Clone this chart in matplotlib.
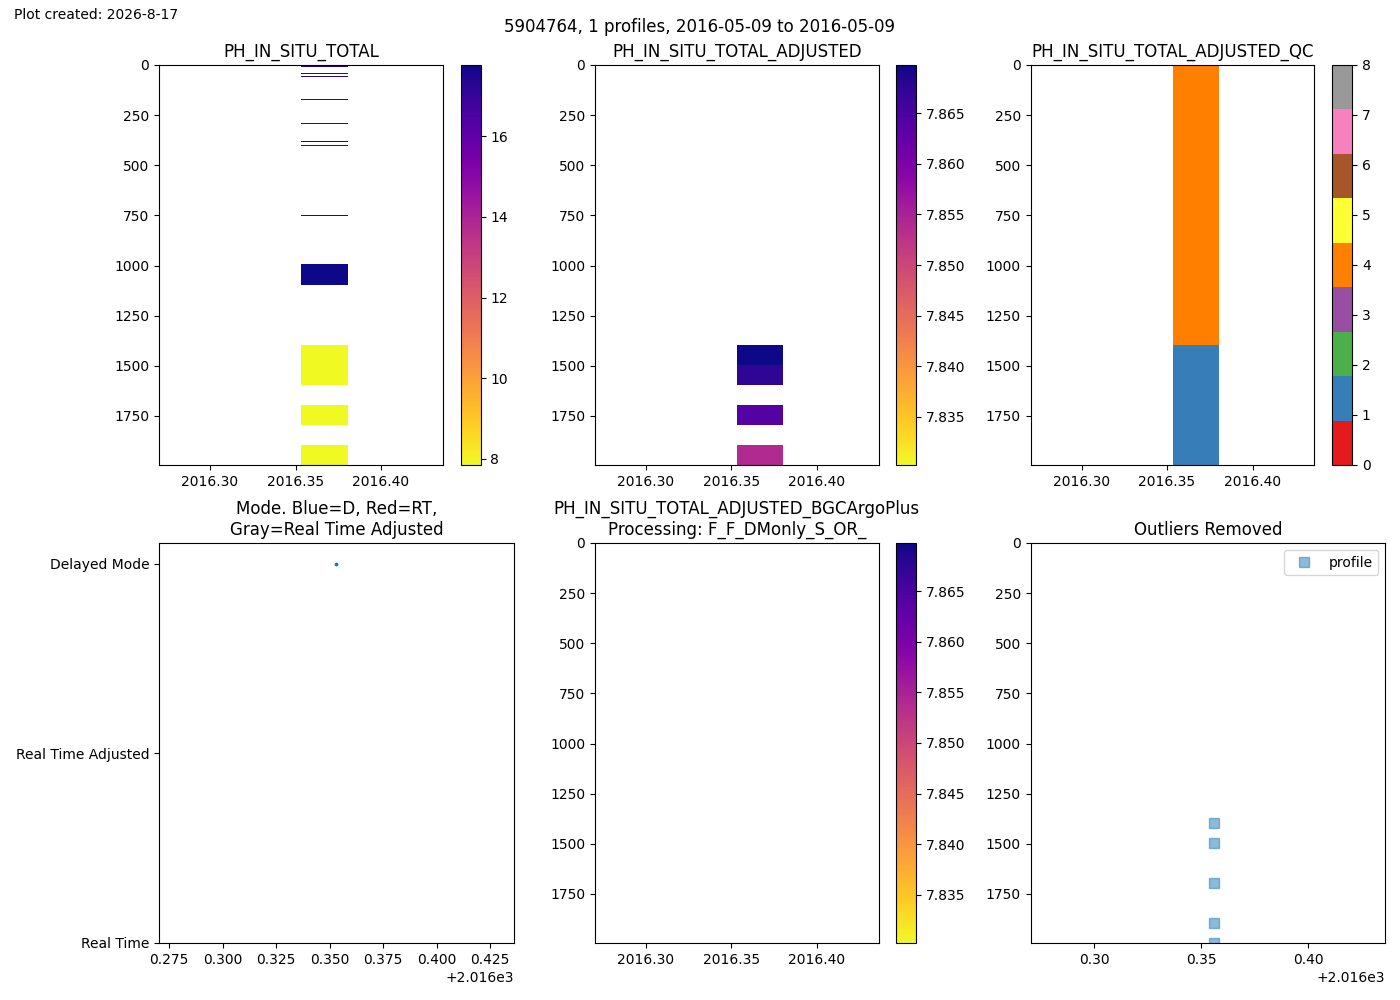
import numpy as np
import matplotlib
matplotlib.use("Agg")
import matplotlib.pyplot as plt

nan = np.nan

wmo = 5904764
date_start = "2016-05-09"
date_end = "2016-05-09"
created = "2026-8-17"

# decimal year of the single profile
prof_time = 2016.3532
prof_time_outliers = 2016.3558
cell_width = 10 / 366.0
window = 0.083

# pressure levels (dbar) of the profile
pres = [4, 9, 39, 44, 54, 59, 172, 177, 287, 292, 381, 386, 399, 404, 748, 753,
        995, 1095, 1395, 1495, 1595, 1695, 1795, 1895, 1995]
ph_raw = [17.25, nan, 17.15, nan, 17.2, nan, 17.2, nan, 17.15, nan, 17.25, nan,
          17.2, nan, 17.35, nan, 17.76, nan, 7.870, 7.868, nan, 7.864, nan, 7.855, 7.851]
ph_adj = [nan] * 18 + [7.8698, 7.8676, nan, 7.864, nan, 7.854, 7.8302]
ph_qc = [4] * 18 + [1, 1, 1, 1, 1, 1, 1]
ph_bgcplus = [nan] * 25

mode_labels = ["Real Time", "Real Time Adjusted", "Delayed Mode"]
mode_value = [2]

outlier_pres = [1395, 1495, 1695, 1895, 1995]
outlier_ticks = [2016.30, 2016.35, 2016.40]


def mesh_panel(ax, values, title, cmap, vmin, vmax):
    y = np.array(pres, dtype=float)
    x = np.array([prof_time, prof_time + cell_width])
    c = np.array(values, dtype=float)[:-1].reshape(-1, 1)
    m = ax.pcolormesh(x, y, np.ma.masked_invalid(c), cmap=cmap, vmin=vmin, vmax=vmax,
                      shading="flat")
    ax.set_xlim(prof_time - window, prof_time + window)
    ax.set_ylim(max(pres), 0)
    ax.set_title(title)
    ax.ticklabel_format(axis="x", useOffset=False)
    return m


fig, axs = plt.subplots(2, 3, figsize=(14, 10))
fig.subplots_adjust(left=0.1136, right=0.9896, bottom=0.057, top=0.935,
                    wspace=0.228, hspace=0.195)

m = mesh_panel(axs[0, 0], ph_raw, "PH_IN_SITU_TOTAL", "plasma_r",
               np.nanmin(ph_raw), np.nanmax(ph_raw))
fig.colorbar(m, ax=axs[0, 0])

adj_min, adj_max = np.nanmin(ph_adj), np.nanmax(ph_adj)
m = mesh_panel(axs[0, 1], ph_adj, "PH_IN_SITU_TOTAL_ADJUSTED", "plasma_r",
               adj_min, adj_max)
fig.colorbar(m, ax=axs[0, 1])

m = mesh_panel(axs[0, 2], ph_qc, "PH_IN_SITU_TOTAL_ADJUSTED_QC", "Set1", 0, 8)
cb = fig.colorbar(m, ax=axs[0, 2])
cb.set_ticks(range(9))

# mode panel
ax = axs[1, 0]
ax.scatter([prof_time], mode_value, s=3, color="C0")
ax.set_yticks(range(len(mode_labels)))
ax.set_yticklabels(mode_labels)
ax.set_ylim(0, 2.11)
ax.set_xlim(prof_time - window, prof_time + window)
ax.set_title("Mode. Blue=D, Red=RT,\nGray=Real Time Adjusted")

m = mesh_panel(axs[1, 1], ph_bgcplus,
               "PH_IN_SITU_TOTAL_ADJUSTED_BGCArgoPlus\nProcessing: F_F_DMonly_S_OR_",
               "plasma_r", adj_min, adj_max)
fig.colorbar(m, ax=axs[1, 1])

ax = axs[1, 2]
ax.plot([prof_time_outliers] * len(outlier_pres), outlier_pres, "s", color="C0",
        alpha=0.5, ms=6.5, label="profile")
ax.set_xlim(prof_time - window, prof_time + window)
ax.set_xticks(outlier_ticks)
ax.set_ylim(max(pres), 0)
ax.set_title("Outliers Removed")
ax.legend(loc="upper right")

fig.suptitle(f"{wmo}, 1 profiles, {date_start} to {date_end}", y=0.982)
fig.text(0.01, 0.992, f"Plot created: {created}", va="top", fontsize=10)

fig.savefig("out.png", dpi=100)
